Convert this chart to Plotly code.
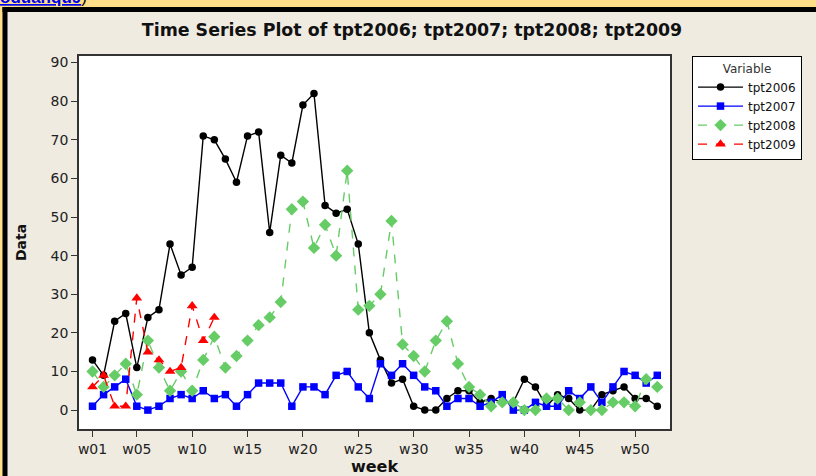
import plotly.graph_objects as go

weeks = ["w%02d" % i for i in range(1, 53)]
tick_labels = ["w01", "w05", "w10", "w15", "w20", "w25", "w30", "w35", "w40", "w45", "w50"]

tpt2006 = [13, 9, 23, 25, 11, 24, 26, 43, 35, 37, 71, 70, 65, 59, 71, 72, 46, 66, 64, 79,
           82, 53, 51, 52, 43, 20, 13, 7, 8, 1, 0, 0, 3, 5, 5, 2, 3, 2, 2, 8,
           6, 1, 4, 3, 0, 0, 4, 5, 6, 3, 3, 1]
tpt2007 = [1, 4, 6, 8, 1, 0, 1, 3, 4, 3, 5, 3, 4, 1, 4, 7, 7, 7, 1, 6,
           6, 4, 9, 10, 6, 3, 12, 9, 12, 9, 6, 5, 1, 3, 3, 1, 2, 4, 0, 0,
           2, 1, 1, 5, 3, 6, 2, 6, 10, 9, 7, 9]
tpt2008 = [10, 6, 9, 12, 4, 18, 11, 5, 10, 5, 13, 19, 11, 14, 18, 22, 24, 28, 52, 54,
           42, 48, 40, 62, 26, 27, 30, 49, 17, 14, 10, 18, 23, 12, 6, 4, 1, 2, 2, 0,
           0, 3, 3, 0, 2, 0, 0, 2, 2, 1, 8, 6]
tpt2009 = [6, 9, 1, 1, 29, 15, 13, 10, 11, 27, 18, 24]

W, H = 816, 476
L, R, T, B = 79, 670, 56, 429


def px(x):
    return (x - L) / (R - L)


def py(y):
    return (B - y) / (B - T)


FONT = "DejaVu Sans"

fig = go.Figure()
fig.add_trace(go.Scatter(x=weeks, y=tpt2006, name="tpt2006", mode="lines+markers",
                         line=dict(color="#000000", width=1.4),
                         marker=dict(symbol="circle", size=7.5, color="#000000")))
fig.add_trace(go.Scatter(x=weeks, y=tpt2007, name="tpt2007", mode="lines+markers",
                         line=dict(color="#0000FF", width=1.4),
                         marker=dict(symbol="square", size=7.5, color="#0000FF")))
fig.add_trace(go.Scatter(x=weeks, y=tpt2008, name="tpt2008", mode="lines+markers",
                         line=dict(color="#66CC66", width=1.4, dash="dash"),
                         marker=dict(symbol="diamond", size=9.5, color="#66CC66")))
fig.add_trace(go.Scatter(x=weeks[:len(tpt2009)], y=tpt2009, name="tpt2009", mode="lines+markers",
                         line=dict(color="#FF0000", width=1.4, dash="dash"),
                         marker=dict(symbol="triangle-up", size=9.5, color="#FF0000")))

beige = "#EFEBE1"
yellow = "#FFDE89"
shapes = [
    dict(type="rect", xref="paper", yref="paper", x0=px(0), x1=px(W), y0=py(0), y1=py(7),
         fillcolor=yellow, line=dict(width=0), layer="above"),
    dict(type="rect", xref="paper", yref="paper", x0=px(0), x1=px(3), y0=py(0), y1=py(H),
         fillcolor=yellow, line=dict(width=0), layer="above"),
    dict(type="rect", xref="paper", yref="paper", x0=px(2.5), x1=px(W), y0=py(7), y1=py(12),
         fillcolor="#000000", line=dict(width=0), layer="above"),
    dict(type="rect", xref="paper", yref="paper", x0=px(2.5), x1=px(7.5), y0=py(7), y1=py(H),
         fillcolor="#000000", line=dict(width=0), layer="above"),
]

fig.update_layout(
    width=W, height=H,
    margin=dict(l=L, r=W - R, t=T, b=H - B, autoexpand=False),
    paper_bgcolor=beige, plot_bgcolor="#FFFFFF",
    font=dict(family=FONT, size=14, color="#222222"),
    title=dict(text="<b>Time Series Plot of tpt2006; tpt2007; tpt2008; tpt2009</b>",
               font=dict(family=FONT, size=17.4, color="#111111"),
               x=412 / W, xanchor="center", y=1 - 30 / H, yanchor="middle"),
    xaxis=dict(type="category", categoryorder="array", categoryarray=weeks,
               range=[-1.22, 52.15], tickmode="array", tickvals=tick_labels, ticktext=tick_labels,
               ticks="outside", ticklen=6, tickcolor="#333333", showgrid=False, zeroline=False,
               showline=True, linecolor="#333333", linewidth=1.5, mirror=True,
               tickfont=dict(family=FONT, size=14, color="#222222"),
               title=dict(text="<b>week</b>", font=dict(family=FONT, size=16, color="#111111"),
                          standoff=11)),
    yaxis=dict(range=[-4.9, 91.7], tickmode="array", tickvals=list(range(0, 91, 10)),
               ticks="outside", ticklen=6, tickcolor="#333333", showgrid=False, zeroline=False,
               showline=True, linecolor="#333333", linewidth=1.5, mirror=True,
               tickfont=dict(family=FONT, size=14, color="#222222"),
               title=dict(text="<b>Data</b>", font=dict(family=FONT, size=14, color="#111111"),
                          standoff=21)),
    legend=dict(x=px(692), xanchor="left", y=py(56), yanchor="top",
                bgcolor="#FFFFFF", bordercolor="#000000", borderwidth=1,
                font=dict(family=FONT, size=12, color="#111111"),
                itemwidth=45, tracegroupgap=0, entrywidth=140,
                title=dict(text="Variable", side="top center",
                           font=dict(family=FONT, size=12, color="#333333"))),
    shapes=shapes,
    showlegend=True,
)

fig.add_annotation(xref="paper", yref="paper", x=px(-2), y=py(-2), xanchor="left", yanchor="middle",
                   text='<span style="color:#0000EE"><u><b>oduanqu9</b></u></span>)',
                   showarrow=False, font=dict(family="Liberation Sans", size=17, color="#000000"))

fig.write_html("out.html", config={"displayModeBar": False},
               post_script="document.body.style.margin='0';")
